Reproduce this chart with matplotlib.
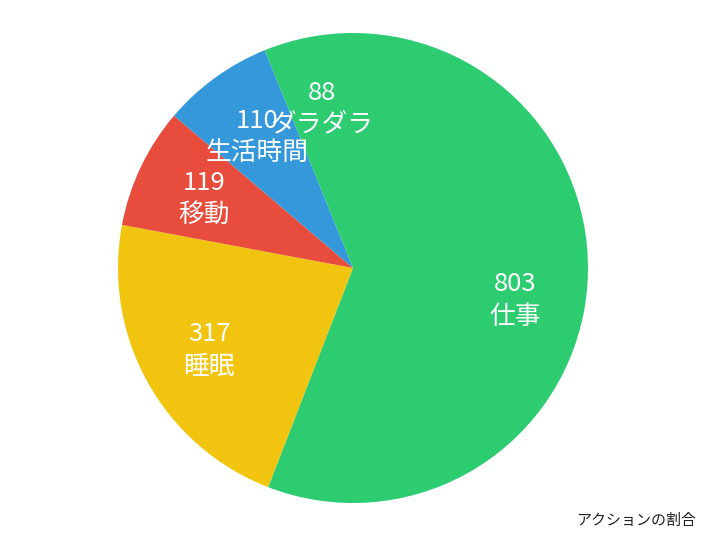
import matplotlib
matplotlib.use("Agg")
import matplotlib.pyplot as plt
import numpy as np

plt.rcParams['font.family'] = ['Noto Sans CJK JP', 'DejaVu Sans']

categories = ["仕事", "睡眠", "移動", "生活時間", "ダラダラ"]
values = [803, 317, 119, 110, 88]
colors = ["#2ecc71", "#f1c40f", "#e74c3c", "#3498db", "#2ecc71"]
title = "アクションの割合"

W, H = 706, 540
fig = plt.figure(figsize=(W / 100, H / 100), dpi=100)
cx, cy, r = 353, 268, 235
ax = fig.add_axes([(cx - r) / W, (H - cy - r) / H, 2 * r / W, 2 * r / H])

wedges, _ = ax.pie(values, colors=colors, startangle=90, counterclock=False,
                   radius=1.0, center=(0, 0),
                   wedgeprops=dict(linewidth=0))
ax.set_xlim(-1, 1)
ax.set_ylim(-1, 1)
ax.set_aspect('equal')
ax.axis('off')

total = sum(values)
start = 90.0
for v, name in zip(values, categories):
    span = v / total * 360
    mid = np.deg2rad(start - span / 2)
    start -= span
    x, y = 0.70 * np.cos(mid), 0.70 * np.sin(mid)
    ax.text(x, y - 0.01, f"{v}\n{name}", ha='center', va='center', color='white',
            fontsize=18.5, linespacing=1.32)

fig.text(636 / W, 1 - 521 / H, title, ha='center', va='center',
         fontsize=10.8, color='#222222')

fig.savefig("out.png", dpi=100, facecolor='white')
